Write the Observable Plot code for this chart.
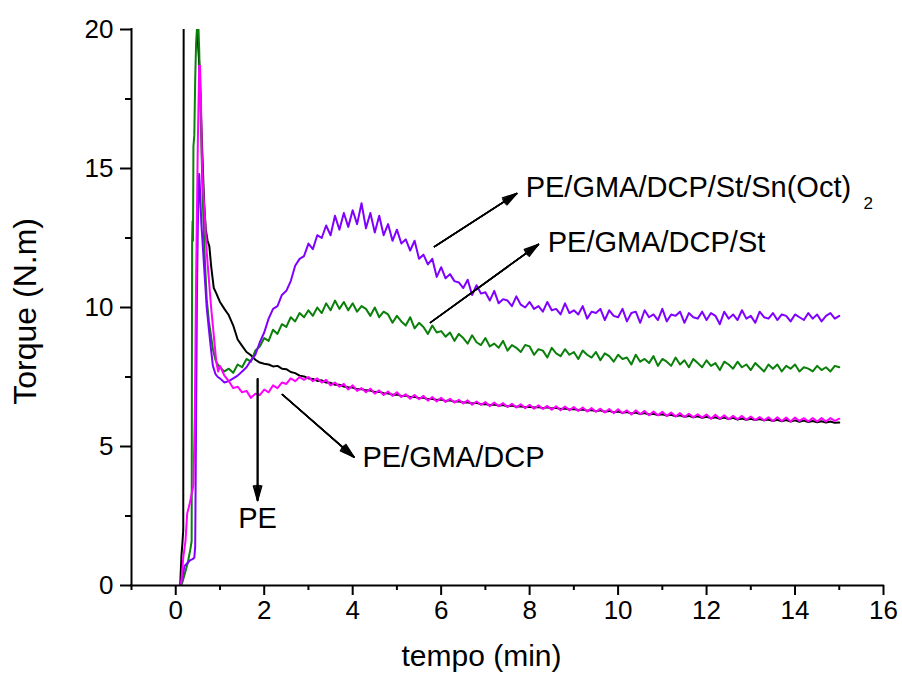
<!DOCTYPE html>
<html>
<head>
<meta charset="utf-8">
<script src="https://cdn.jsdelivr.net/npm/d3@7"></script>
<script src="https://cdn.jsdelivr.net/npm/@observablehq/plot@0.6"></script>
<style>
  body { margin: 0; background: #ffffff; }
  #chart svg { display: block; }
</style>
</head>
<body>
<div id="chart"></div>
<script>
// ---- Data ----
// Start-up part of each run (t < 1 min)
const peT0 = [0.10, 0.13, 0.15, 0.17, 0.18, 0.47, 0.50, 0.53, 0.56, 0.60, 0.64, 0.68, 0.72, 0.76, 0.80, 0.86, 0.92, 0.96];
const peV0 = [0, 1.1, 1.5, 2.0, 22, 21, 19.6, 18.8, 17.5, 15.6, 13.8, 12.8, 12.4, 12.2, 11.5, 10.7, 10.5, 10.35];

const gdT0 = [0.12, 0.17, 0.22, 0.26, 0.31, 0.36, 0.40, 0.43, 0.46, 0.50, 0.53, 0.55, 0.57, 0.59, 0.62, 0.65, 0.70, 0.75, 0.80, 0.86, 0.92, 0.96];
const gdV0 = [0, 1.0, 1.6, 2.6, 2.9, 3.3, 3.6, 6, 11, 16, 18.7, 18.7, 17.5, 15.5, 14.2, 13.5, 12.0, 11.0, 10.0, 9.0, 8.0, 7.7];

const gdsT0 = [0.13, 0.20, 0.27, 0.33, 0.36, 0.37, 0.38, 0.39, 0.40, 0.42, 0.44, 0.46, 0.49, 0.51, 0.53, 0.56, 0.60, 0.65, 0.70, 0.75, 0.79, 0.84, 0.90, 0.95];
const gdsV0 = [0, 0.4, 0.8, 1.3, 1.6, 12.3, 13.1, 12.4, 15.8, 16.2, 18.2, 19.5, 20.3, 20.2, 19.3, 17.2, 14.5, 12.0, 10.3, 9.5, 9.06, 8.5, 8.1, 7.95];

const gdssT0 = [0.10, 0.15, 0.20, 0.26, 0.32, 0.38, 0.42, 0.44, 0.46, 0.48, 0.50, 0.53, 0.55, 0.58, 0.62, 0.66, 0.70, 0.75, 0.79, 0.84, 0.90, 0.95];
const gdssV0 = [0, 0.3, 0.7, 0.8, 0.9, 0.95, 1.0, 1.4, 6, 10.5, 13, 14.8, 14.2, 13.0, 12.0, 11.0, 10.0, 9.2, 8.6, 7.9, 7.6, 7.5];

// Logged times, 1.0 ... 15.0 min
const tempo = [
  1.0, 1.1, 1.2, 1.3, 1.4, 1.5, 1.6, 1.7, 1.8, 1.9,
  2.0, 2.1, 2.2, 2.3, 2.4, 2.5, 2.6, 2.7, 2.8, 2.9,
  3.0, 3.1, 3.2, 3.3, 3.4, 3.5, 3.6, 3.7, 3.8, 3.9,
  4.0, 4.1, 4.2, 4.3, 4.4, 4.5, 4.6, 4.7, 4.8, 4.9,
  5.0, 5.1, 5.2, 5.3, 5.4, 5.5, 5.6, 5.7, 5.8, 5.9,
  6.0, 6.1, 6.2, 6.3, 6.4, 6.5, 6.6, 6.7, 6.8, 6.9,
  7.0, 7.1, 7.2, 7.3, 7.4, 7.5, 7.6, 7.7, 7.8, 7.9,
  8.0, 8.1, 8.2, 8.3, 8.4, 8.5, 8.6, 8.7, 8.8, 8.9,
  9.0, 9.1, 9.2, 9.3, 9.4, 9.5, 9.6, 9.7, 9.8, 9.9,
  10.0, 10.1, 10.2, 10.3, 10.4, 10.5, 10.6, 10.7, 10.8, 10.9,
  11.0, 11.1, 11.2, 11.3, 11.4, 11.5, 11.6, 11.7, 11.8, 11.9,
  12.0, 12.1, 12.2, 12.3, 12.4, 12.5, 12.6, 12.7, 12.8, 12.9,
  13.0, 13.1, 13.2, 13.3, 13.4, 13.5, 13.6, 13.7, 13.8, 13.9,
  14.0, 14.1, 14.2, 14.3, 14.4, 14.5, 14.6, 14.7, 14.8, 14.9,
  15.0
];

const peV = [
  10.20, 9.95, 9.72, 9.35, 8.85, 8.62, 8.40, 8.28, 8.12, 8.02,
  7.98, 7.95, 7.88, 7.90, 7.80, 7.78, 7.68, 7.64, 7.55, 7.52,
  7.45, 7.43, 7.36, 7.38, 7.30, 7.29, 7.22, 7.22, 7.16, 7.13,
  7.12, 7.06, 7.07, 7.02, 7.01, 6.96, 6.97, 6.92, 6.91, 6.86,
  6.87, 6.82, 6.83, 6.78, 6.79, 6.74, 6.76, 6.70, 6.72, 6.67,
  6.69, 6.64, 6.66, 6.61, 6.63, 6.58, 6.59, 6.55, 6.57, 6.52,
  6.53, 6.49, 6.51, 6.47, 6.49, 6.45, 6.47, 6.43, 6.45, 6.41,
  6.43, 6.40, 6.42, 6.38, 6.41, 6.37, 6.39, 6.35, 6.37, 6.33,
  6.35, 6.31, 6.33, 6.29, 6.31, 6.27, 6.30, 6.25, 6.28, 6.23,
  6.26, 6.21, 6.24, 6.19, 6.22, 6.17, 6.20, 6.15, 6.18, 6.13,
  6.16, 6.11, 6.14, 6.09, 6.12, 6.07, 6.10, 6.05, 6.09, 6.03,
  6.07, 6.02, 6.05, 6.00, 6.04, 5.99, 6.03, 5.97, 6.01, 5.96,
  6.00, 5.95, 5.99, 5.94, 5.97, 5.92, 5.96, 5.91, 5.95, 5.90,
  5.94, 5.89, 5.93, 5.88, 5.92, 5.87, 5.91, 5.86, 5.90, 5.85,
  5.86
];

const gdV = [
  7.90, 7.55, 7.35, 7.10, 7.15, 6.95, 7.00, 6.75, 6.90, 6.85,
  7.05, 6.95, 7.20, 7.10, 7.30, 7.25, 7.45, 7.35, 7.50, 7.40,
  7.50, 7.35, 7.45, 7.30, 7.40, 7.20, 7.30, 7.15, 7.25, 7.05,
  7.20, 7.00, 7.10, 6.95, 7.08, 6.90, 7.02, 6.85, 6.98, 6.82,
  6.95, 6.78, 6.88, 6.72, 6.85, 6.70, 6.82, 6.65, 6.78, 6.62,
  6.75, 6.60, 6.72, 6.58, 6.68, 6.55, 6.66, 6.50, 6.62, 6.50,
  6.60, 6.45, 6.58, 6.45, 6.56, 6.42, 6.54, 6.40, 6.52, 6.38,
  6.50, 6.36, 6.48, 6.35, 6.46, 6.32, 6.45, 6.30, 6.44, 6.30,
  6.42, 6.28, 6.40, 6.26, 6.38, 6.25, 6.36, 6.22, 6.35, 6.20,
  6.34, 6.20, 6.30, 6.15, 6.30, 6.16, 6.28, 6.12, 6.26, 6.12,
  6.25, 6.10, 6.22, 6.08, 6.20, 6.06, 6.18, 6.05, 6.16, 6.04,
  6.15, 6.00, 6.14, 6.00, 6.12, 5.98, 6.10, 5.98, 6.10, 5.96,
  6.08, 5.95, 6.06, 5.94, 6.05, 5.92, 6.05, 5.92, 6.04, 5.90,
  6.04, 5.92, 6.02, 5.90, 6.02, 5.90, 6.02, 5.90, 6.02, 5.92,
  6.00
];

const gdsV = [
  7.85, 7.70, 7.80, 7.65, 7.95, 7.85, 8.15, 8.05, 8.45, 8.60,
  8.90, 8.80, 9.20, 9.05, 9.40, 9.30, 9.65, 9.50, 9.80, 9.65,
  9.90, 9.70, 10.00, 9.80, 10.15, 9.90, 10.25, 9.95, 10.20, 9.90,
  10.15, 9.85, 10.05, 9.95, 9.70, 10.00, 9.65, 9.85, 9.75, 9.45,
  9.70, 9.50, 9.35, 9.65, 9.25, 9.45, 9.30, 9.05, 9.35, 9.10,
  9.15, 8.95, 9.10, 8.80, 9.05, 8.90, 8.70, 9.00, 8.75, 8.65,
  8.90, 8.60, 8.70, 8.55, 8.80, 8.45, 8.65, 8.55, 8.40, 8.65,
  8.60, 8.30, 8.50, 8.45, 8.20, 8.55, 8.35, 8.25, 8.50, 8.30,
  8.40, 8.15, 8.45, 8.30, 8.20, 8.40, 8.10, 8.35, 8.25, 8.05,
  8.30, 8.15, 8.20, 7.95, 8.30, 8.05, 8.15, 8.00, 8.25, 7.90,
  8.15, 8.05, 7.90, 8.20, 7.95, 8.10, 7.85, 8.15, 8.00, 7.85,
  8.10, 7.90, 8.00, 7.75, 8.05, 7.95, 7.80, 8.05, 7.85, 7.95,
  7.75, 8.00, 7.85, 7.70, 7.95, 7.80, 7.95, 7.70, 7.90, 7.80,
  7.95, 7.70, 7.85, 7.80, 7.70, 7.90, 7.75, 7.85, 7.70, 7.90,
  7.85
];

const gdssV = [
  7.45, 7.30, 7.35, 7.45, 7.55, 7.70, 7.85, 8.10, 8.30, 8.75,
  9.10, 9.60, 9.95, 10.05, 10.45, 10.60, 10.95, 11.50, 11.75, 11.85,
  12.30, 12.10, 12.60, 12.50, 12.95, 12.60, 13.30, 12.80, 13.40, 12.90,
  13.50, 13.00, 13.75, 12.85, 13.40, 12.70, 13.30, 12.60, 13.00, 12.40,
  12.80, 12.30, 12.45, 12.05, 12.40, 11.75, 11.90, 11.55, 11.75, 11.10,
  11.45, 11.05, 11.20, 10.95, 10.90, 10.70, 11.00, 10.45, 10.80, 10.50,
  10.55, 10.25, 10.60, 10.15, 10.30, 10.25, 10.05, 10.40, 10.10, 10.00,
  10.20, 9.95, 10.05, 9.85, 10.20, 9.90, 9.95, 9.75, 10.15, 9.80,
  9.90, 9.75, 10.05, 9.60, 9.85, 9.80, 9.95, 9.55, 9.90, 9.70,
  9.65, 9.95, 9.50, 9.80, 9.85, 9.45, 9.90, 9.65, 9.75, 9.55,
  9.95, 9.50, 9.75, 9.70, 9.85, 9.45, 9.80, 9.65, 9.60, 9.85,
  9.55, 9.80, 9.70, 9.40, 9.85, 9.60, 9.75, 9.55, 9.90, 9.60,
  9.70, 9.45, 9.85, 9.65, 9.60, 9.80, 9.55, 9.75, 9.70, 9.50,
  9.75, 9.65, 9.55, 9.80, 9.60, 9.75, 9.50, 9.70, 9.80, 9.60,
  9.70
];

// Tick values
const xMajor = [0, 2, 4, 6, 8, 10, 12, 14, 16];
const xMinor = [-1, 1, 3, 5, 7, 9, 11, 13, 15];
const yMajor = [0, 5, 10, 15, 20];
const yMinor = [2.5, 7.5, 12.5, 17.5];

// Annotations (data coordinates)
const labelTexts = ["PE/GMA/DCP/St/Sn(Oct)", "PE/GMA/DCP/St", "PE/GMA/DCP"];
const labelX = [7.91, 8.41, 4.22];
const labelY = [14.32, 12.34, 4.60];
const peLabel = ["PE"];
const peLabelX = [1.85];
const peLabelY = [2.39];
const subText = ["2"];
const subX = [15.55];
const subY = [13.74];
const arrowX1 = [5.85, 5.76, 2.41, 1.85];
const arrowY1 = [12.19, 9.46, 6.87, 7.44];
const arrowX2 = [7.71, 8.20, 4.03, 1.85];
const arrowY2 = [14.10, 12.27, 4.62, 3.06];
const xTitle = ["tempo (min)"];
const yTitle = ["Torque (N.m)"];

// ---- Build tables ----
function build(t0, v0, v) {
  return [
    ...t0.map((t, i) => ({t, v: v0[i]})),
    ...tempo.map((t, i) => ({t, v: v[i]}))
  ];
}
const pe = build(peT0, peV0, peV);
const gd = build(gdT0, gdV0, gdV);
const gds = build(gdsT0, gdsV0, gdsV);
const gdss = build(gdssT0, gdssV0, gdssV);

const labels = labelTexts.map((text, i) => ({text, x: labelX[i], y: labelY[i]}));
const peLabels = peLabel.map((text, i) => ({text, x: peLabelX[i], y: peLabelY[i]}));
const subs = subText.map((text, i) => ({text, x: subX[i], y: subY[i]}));
const arrows = arrowX1.map((x1, i) => ({x1, y1: arrowY1[i], x2: arrowX2[i], y2: arrowY2[i]}));

const lineOpts = {x: "t", y: "v", strokeWidth: 2, clip: true, strokeLinejoin: "round"};
const arrowOpts = (angle) => ({x1: "x1", y1: "y1", x2: "x2", y2: "y2", stroke: "black", strokeWidth: 1.5, headLength: 15, headAngle: angle});

const chart = Plot.plot({
  width: 902,
  height: 684,
  marginLeft: 131,
  marginRight: 19,
  marginTop: 29,
  marginBottom: 99,
  style: {fontFamily: "'Liberation Sans', Arial, sans-serif", background: "#ffffff", color: "#000000", overflow: "visible"},
  x: {domain: [-1, 16]},
  y: {domain: [0, 20]},
  marks: [
    Plot.line(pe, {...lineOpts, stroke: "#000000"}),
    Plot.line(gds, {...lineOpts, stroke: "#0a800a"}),
    Plot.line(gdss, {...lineOpts, stroke: "#8000ff"}),
    Plot.line(gd, {...lineOpts, stroke: "#ff00ff"}),
    Plot.ruleX([-1], {y1: 0, y2: 20, stroke: "black", strokeWidth: 2, strokeLinecap: "square"}),
    Plot.ruleY([0], {x1: -1, x2: 16, stroke: "black", strokeWidth: 2, strokeLinecap: "square"}),
    Plot.axisX({ticks: xMajor, tickSize: 10, tickPadding: 5, fontSize: 26, strokeWidth: 2, label: null}),
    Plot.axisX({ticks: xMinor, tickSize: 5, tickFormat: () => "", strokeWidth: 2, label: null}),
    Plot.axisY({ticks: yMajor, tickSize: 11, tickPadding: 7, fontSize: 26, strokeWidth: 2, label: null}),
    Plot.axisY({ticks: yMinor, tickSize: 6, tickFormat: () => "", strokeWidth: 2, label: null}),
    Plot.arrow(arrows, arrowOpts(32)),
    Plot.arrow(arrows, arrowOpts(22)),
    Plot.arrow(arrows, arrowOpts(12)),
    Plot.arrow(arrows, arrowOpts(4)),
    Plot.text(labels, {x: "x", y: "y", text: "text", textAnchor: "start", fontSize: 29, lineAnchor: "middle", fill: "black"}),
    Plot.text(peLabels, {x: "x", y: "y", text: "text", textAnchor: "middle", fontSize: 29, lineAnchor: "middle", fill: "black"}),
    Plot.text(subs, {x: "x", y: "y", text: "text", textAnchor: "start", fontSize: 17, lineAnchor: "middle", fill: "black"}),
    Plot.text(xTitle, {frameAnchor: "bottom", dx: -26, dy: 71, fontSize: 30, lineAnchor: "middle", fill: "black"}),
    Plot.text(yTitle, {x: -3.39, y: 9.86, rotate: -90, fontSize: 32, lineAnchor: "middle", textAnchor: "middle", fill: "black", clip: false})
  ]
});
document.getElementById("chart").appendChild(chart);
</script>
</body>
</html>
